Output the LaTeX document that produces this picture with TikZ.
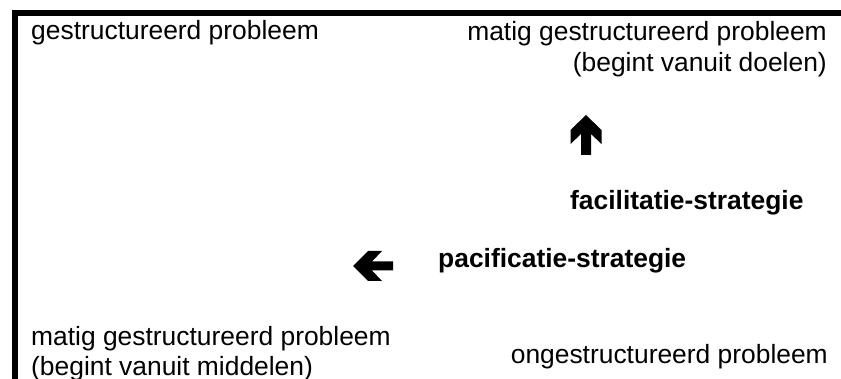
\documentclass[tikz,border=0pt]{standalone}
\usepackage{fontspec}
\setmainfont{Liberation Sans}
\begin{document}
\begin{tikzpicture}[x=1pt,y=-1pt,
  lbl/.style={inner sep=0pt,font=\fontsize{26.4}{31}\selectfont},
  strat/.style={inner sep=0pt,font=\fontsize{26.4}{31}\selectfont\bfseries},
  frame/.style={line width=5.5pt,line join=miter},
  blockarrow/.style={fill=black,draw=none}]
\useasboundingbox (0,0) rectangle (841,379);
\fill[white] (0,0) rectangle (841,379);
% frame (top and left)
\draw[frame] (15,382) -- (15,13) -- (844,13);
% texts
\node[lbl,anchor=base west] (tl) at (31,39.5) {gestructureerd probleem};
\node[lbl,anchor=base east] (tr1) at (827,40.5) {matig gestructureerd probleem};
\node[lbl,anchor=base east] (tr2) at (827,72) {(begint vanuit doelen)};
\node[strat,anchor=base west] (fac) at (570,210) {facilitatie-strategie};
\node[strat,anchor=base west] (pac) at (438,268) {pacificatie-strategie};
\node[lbl,anchor=base west] (bl1) at (31,345) {matig gestructureerd probleem};
\node[lbl,anchor=base west] (bl2) at (31,375) {(begint vanuit middelen)};
\node[lbl,anchor=base east] (br) at (828,363) {ongestructureerd probleem};
% up arrow
\fill[blockarrow] (586,115) -- (601.5,130) -- (601.5,144) -- (591,134) -- (591,155)
  -- (581,155) -- (581,134) -- (570.5,144) -- (570.5,130) -- cycle;
% left arrow
\fill[blockarrow] (353,266) -- (368,251) -- (382,251) -- (372,261.5) -- (393,261.5)
  -- (393,270.5) -- (372,270.5) -- (382,281) -- (368,281) -- cycle;
\end{tikzpicture}
\end{document}
